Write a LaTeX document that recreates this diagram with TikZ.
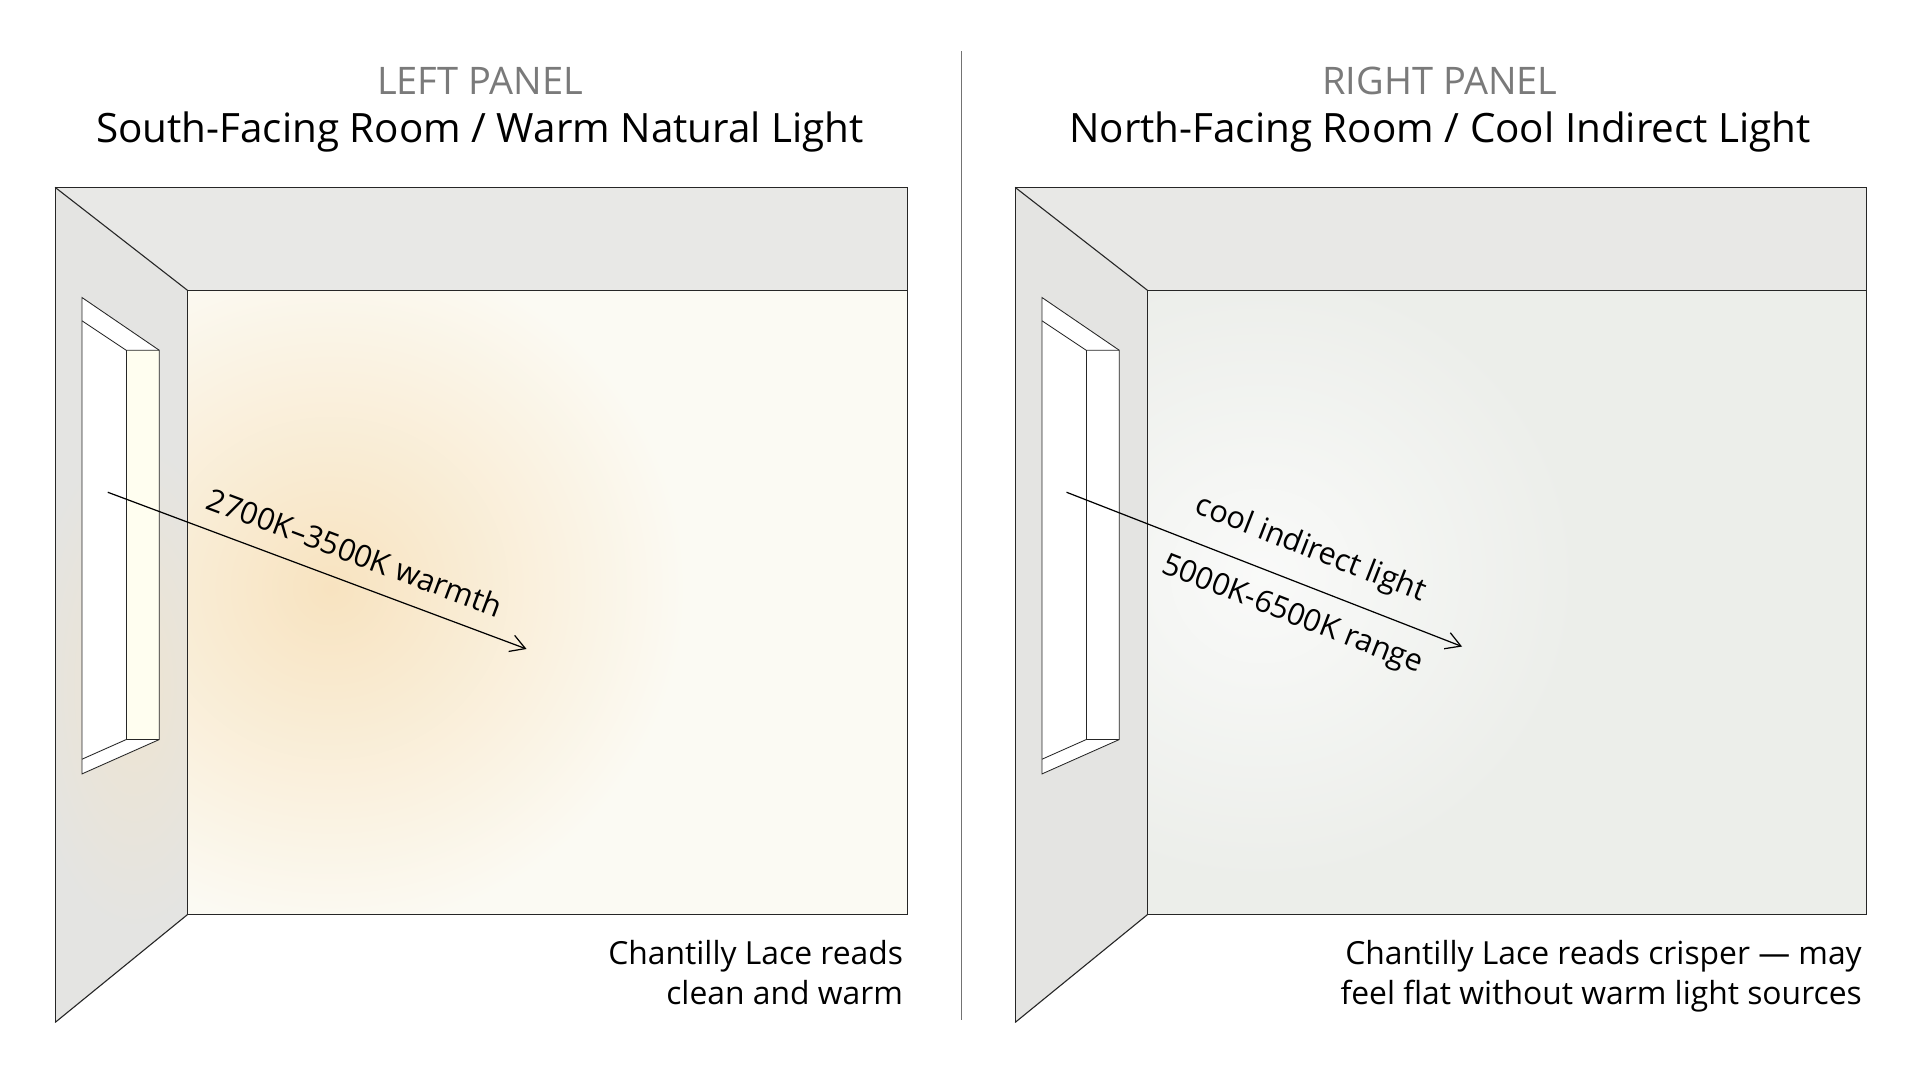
\documentclass[tikz,border=0pt]{standalone}
\usepackage{fontspec}
\setmainfont{Open Sans}
\usetikzlibrary{arrows.meta}
\definecolor{ceil}{HTML}{E8E8E6}
\definecolor{lwall}{HTML}{E4E4E2}
\definecolor{warmw}{HTML}{FBFAF3}
\definecolor{coolw}{HTML}{ECEEEA}
\definecolor{glow}{HTML}{F8E3C0}
\definecolor{titlegray}{HTML}{7A7A7A}
\tikzset{
  edge/.style={draw=black!85,line width=0.9pt},
  ttl/.style={font=\fontsize{31}{34}\selectfont,text=titlegray},
  sub/.style={font=\fontsize{33}{36}\selectfont},
  captxt/.style={font=\fontsize{26}{33}\selectfont,align=right,anchor=north east},
  lab/.style={font=\fontsize{25}{28}\selectfont},
  arr/.style={draw=black,line width=1pt,-{Straight Barb[length=12pt,width=14pt]}}
}
\begin{document}
\begin{tikzpicture}[x=1pt,y=-1pt]
\useasboundingbox (0,0) rectangle (1568,876);
\fill[white] (0,0) rectangle (1568,876);
% ---------- LEFT PANEL ----------
\fill[ceil] (45,153) -- (741,153) -- (741,237) -- (153,237) -- cycle;
\fill[warmw] (153,237) rectangle (741,747);
\begin{scope}
\clip (153,237) rectangle (741,747);
\shade[inner color=glow,outer color=warmw] (270,480) ellipse (290 and 280);
\end{scope}
\fill[lwall] (45,153) -- (153,237) -- (153,747) -- (45,835) -- cycle;
\begin{scope}
\clip (45,153) -- (153,237) -- (153,747) -- (45,835) -- cycle;
\shade[inner color=glow!50!lwall,outer color=lwall] (110,560) ellipse (90 and 200);
\end{scope}
\draw[edge] (45,153) -- (741,153) -- (741,747);
\draw[edge] (153,237) rectangle (741,747);
\draw[edge] (45,153) -- (153,237);
\draw[edge] (45,835) -- (153,747);
\draw[edge] (45,153) -- (45,835);
% window
\fill[white] (67,243) -- (130,286) -- (130,604) -- (67,632) -- cycle;
\fill[yellow!6] (103,286) rectangle (130,604);
\draw[edge,line width=0.7pt] (67,243) -- (130,286) -- (130,604) -- (67,632) -- cycle;
\draw[edge,line width=0.7pt] (67,262) -- (103,286) -- (130,286);
\draw[edge,line width=0.7pt] (103,286) -- (103,604) -- (130,604);
\draw[edge,line width=0.7pt] (103,604) -- (67,620);
\coordinate (la) at (88,402);
\coordinate (lb) at (430,530);
\draw[arr] (la) -- (lb);
\node[lab,rotate=-20.5] (llab) at (290,451) {2700K–3500K warmth};
\node[ttl] (lt) at (392,66) {LEFT PANEL};
\node[sub] (ls) at (392,108) {South-Facing Room / Warm Natural Light};
\node[captxt] (lc) at (741,764) {Chantilly Lace reads\\clean and warm};
% divider
\draw[black!55,line width=0.9pt] (785,42) -- (785,833);
% ---------- RIGHT PANEL ----------
\fill[ceil] (829,153) -- (1524,153) -- (1524,237) -- (937,237) -- cycle;
\fill[coolw] (937,237) rectangle (1524,747);
\begin{scope}
\clip (937,237) rectangle (1524,747);
\shade[inner color=white!70!coolw,outer color=coolw] (1030,470) ellipse (260 and 250);
\end{scope}
\fill[lwall] (829,153) -- (937,237) -- (937,747) -- (829,835) -- cycle;
\draw[edge] (829,153) -- (1524,153) -- (1524,747);
\draw[edge] (937,237) rectangle (1524,747);
\draw[edge] (829,153) -- (937,237);
\draw[edge] (829,835) -- (937,747);
\draw[edge] (829,153) -- (829,835);
\fill[white] (851,243) -- (914,286) -- (914,604) -- (851,632) -- cycle;
\draw[edge,line width=0.7pt] (851,243) -- (914,286) -- (914,604) -- (851,632) -- cycle;
\draw[edge,line width=0.7pt] (851,262) -- (887,286) -- (914,286);
\draw[edge,line width=0.7pt] (887,286) -- (887,604) -- (914,604);
\draw[edge,line width=0.7pt] (887,604) -- (851,620);
\coordinate (ra) at (871,402);
\coordinate (rb) at (1194,528);
\draw[arr] (ra) -- (rb);
\node[lab,rotate=-21.3] (rl1) at (1070,449) {cool indirect light};
\node[lab,rotate=-21.3] (rl2) at (1055,503) {5000K-6500K range};
\node[ttl] (rt) at (1176,66) {RIGHT PANEL};
\node[sub] (rs) at (1176,108) {North-Facing Room / Cool Indirect Light};
\node[captxt] (rc) at (1524,764) {Chantilly Lace reads crisper — may\\feel flat without warm light sources};
\end{tikzpicture}
\end{document}
